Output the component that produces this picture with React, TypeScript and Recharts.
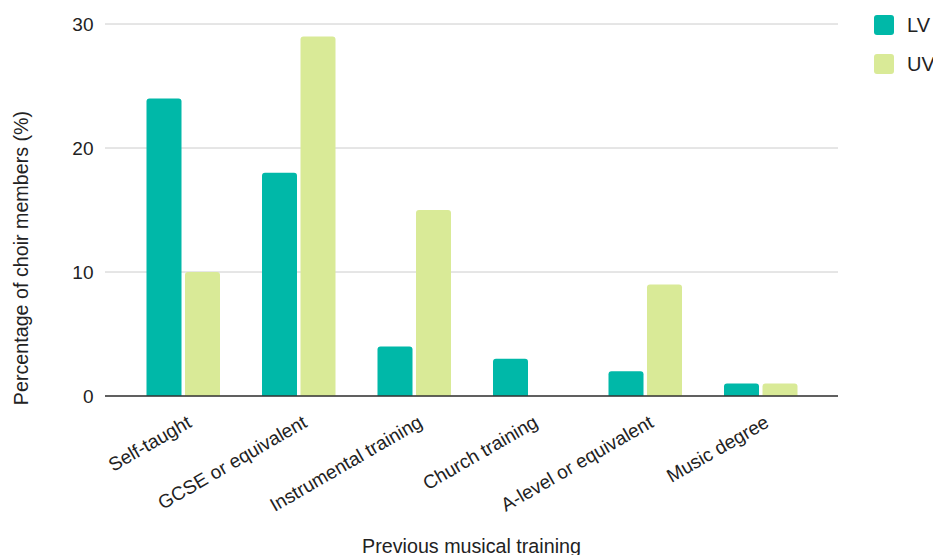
import React from "react";
import { BarChart, Bar, XAxis, YAxis, CartesianGrid } from "recharts";

const categories = [
  "Self-taught",
  "GCSE or equivalent",
  "Instrumental training",
  "Church training",
  "A-level or equivalent",
  "Music degree",
];
const lvValues = [24, 18, 4, 3, 2, 1];
const uvValues = [10, 29, 15, 0, 9, 1];
const yTicks = [0, 10, 20, 30];

const LV_COLOR = "#00b8a8";
const UV_COLOR = "#d9ea97";
const FONT = "'Liberation Sans', Arial, sans-serif";

const data = categories.map((c, i) => ({ name: c, LV: lvValues[i], UV: uvValues[i] }));

const XTick = (props: any) => {
  const { x, y, payload } = props;
  const ax = x + 10;
  const ay = y + 22;
  return (
    <text
      x={ax}
      y={ay}
      textAnchor="end"
      transform={`rotate(-30, ${ax}, ${ay})`}
      fontSize={19}
      fill="#222"
      fontFamily={FONT}
    >
      {payload.value}
    </text>
  );
};

const XTitle = (props: any) => {
  const vb = props.viewBox || {};
  const cx = vb.x + vb.width / 2;
  return (
    <text x={cx} y={553} textAnchor="middle" fontSize={19.7} fill="#222" fontFamily={FONT}>
      Previous musical training
    </text>
  );
};

const YTitle = () => (
  <text
    x={27.5}
    y={258}
    textAnchor="middle"
    transform="rotate(-90, 27.5, 258)"
    fontSize={19.7}
    fill="#222"
    fontFamily={FONT}
  >
    Percentage of choir members (%)
  </text>
);

export default function App() {
  return (
    <div style={{ position: "absolute", left: 0, top: 0, width: 933, height: 555, background: "#fff", fontFamily: FONT }}>
      <BarChart
        width={933}
        height={555}
        data={data}
        margin={{ top: 24, right: 95, left: 0, bottom: 0 }}
        barCategoryGap={21.5}
        barGap={3.5}
      >
        <CartesianGrid vertical={false} stroke="#cccccc" />
        <XAxis
          dataKey="name"
          interval={0}
          height={159}
          padding={{ left: 20, right: 20 }}
          tickLine={false}
          axisLine={{ stroke: "#333333", strokeWidth: 1.5 }}
          tick={<XTick />}
          label={<XTitle />}
        />
        <YAxis
          width={105}
          domain={[0, 30]}
          ticks={yTicks}
          tickLine={false}
          axisLine={false}
          tickSize={0}
          tickMargin={11.5}
          tick={{ fontSize: 19, fill: "#222", fontFamily: FONT }}
          label={<YTitle />}
        />
        <Bar dataKey="LV" fill={LV_COLOR} radius={[3, 3, 0, 0]} isAnimationActive={false} />
        <Bar dataKey="UV" fill={UV_COLOR} radius={[3, 3, 0, 0]} isAnimationActive={false} />
      </BarChart>
      <div style={{ position: "absolute", left: 874, top: 15, fontSize: 20, color: "#222", fontFamily: FONT }}>
        {[
          { label: "LV", color: LV_COLOR },
          { label: "UV", color: UV_COLOR },
        ].map((item) => (
          <div key={item.label} style={{ display: "flex", alignItems: "center", height: 20, marginBottom: 19 }}>
            <div style={{ width: 20, height: 20, borderRadius: 3, background: item.color, marginRight: 13 }} />
            <span style={{ lineHeight: "20px" }}>{item.label}</span>
          </div>
        ))}
      </div>
    </div>
  );
}
